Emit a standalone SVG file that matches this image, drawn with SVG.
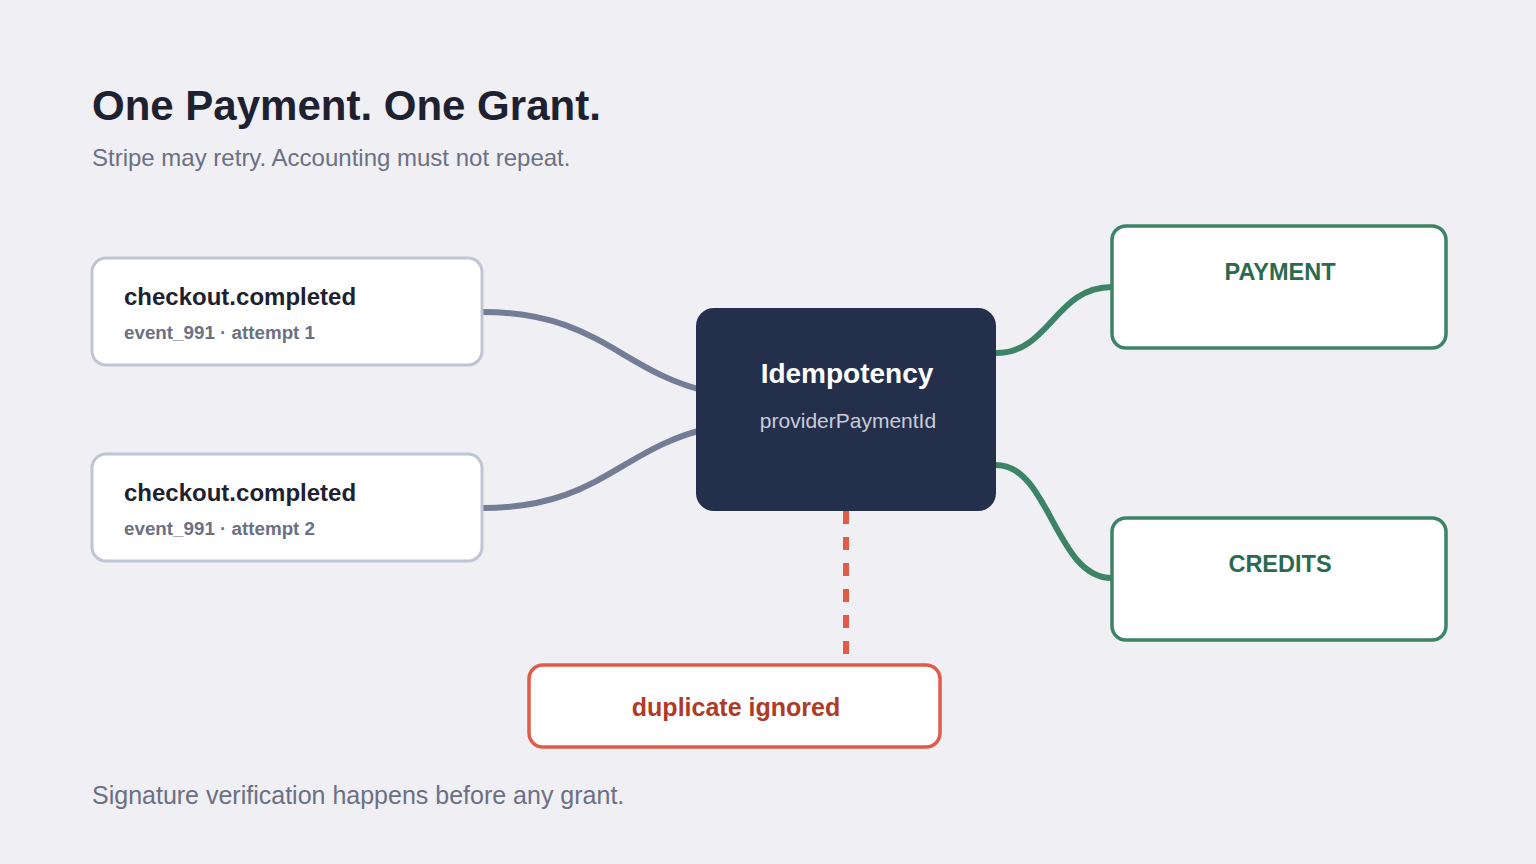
<svg xmlns="http://www.w3.org/2000/svg" width="1536" height="864" viewBox="0 0 1536 864">
<defs>
<style>
text{font-family:"Liberation Sans",Arial,Helvetica,sans-serif}
.title{font-size:42px;font-weight:bold;fill:#1d2130}
.sub{font-size:24px;fill:#6b7083}
.foot{font-size:25px;fill:#6b7083}
.evbox{fill:#ffffff;stroke:#c0c5d3;stroke-width:3}
.evt{font-size:24px;font-weight:bold;fill:#1d2130}
.evs{font-size:18.8px;font-weight:bold;fill:#6b7083}
.outbox{fill:#ffffff;stroke:#3d8466;stroke-width:3.5}
.outt{font-size:23.5px;font-weight:bold;fill:#2a6a4e;text-anchor:middle}
.gray{fill:none;stroke:#737d96;stroke-width:6;stroke-linecap:round}
.green{fill:none;stroke:#3d8466;stroke-width:6;stroke-linecap:round}
.red{fill:none;stroke:#e05c46;stroke-width:6;stroke-dasharray:13 13}
</style>
</defs>
<rect width="1536" height="864" fill="#efeff4"/>
<text class="title" x="92" y="120">One Payment. One Grant.</text>
<text class="sub" x="92" y="166">Stripe may retry. Accounting must not repeat.</text>

<g id="connectors">
<path class="gray" d="M482,312 C600,312 620,372 710,392"/>
<path class="gray" d="M482,508 C600,508 620,448 710,428"/>
<path class="green" d="M996,353 C1050,353 1055,287 1112,287"/>
<path class="green" d="M996,465 C1050,465 1055,578 1112,578"/>
<path class="red" d="M846,511 L846,658"/>
</g>

<g id="event1">
<rect class="evbox" x="92" y="258" width="390" height="107" rx="14"/>
<text class="evt" x="124" y="305">checkout.completed</text>
<text class="evs" x="124" y="339">event_991 · attempt 1</text>
</g>
<g id="event2">
<rect class="evbox" x="92" y="454" width="390" height="107" rx="14"/>
<text class="evt" x="124" y="501">checkout.completed</text>
<text class="evs" x="124" y="535">event_991 · attempt 2</text>
</g>

<g id="idempotency">
<rect x="696" y="308" width="300" height="203" rx="18" fill="#242f4b"/>
<text x="847" y="383" text-anchor="middle" font-size="28" font-weight="bold" fill="#ffffff">Idempotency</text>
<text x="848" y="428" text-anchor="middle" font-size="21" fill="#c8cdd9">providerPaymentId</text>
</g>

<g id="payment">
<rect class="outbox" x="1112" y="226" width="334" height="122" rx="14"/>
<text class="outt" x="1280" y="280">PAYMENT</text>
</g>
<g id="credits">
<rect class="outbox" x="1112" y="518" width="334" height="122" rx="14"/>
<text class="outt" x="1280" y="572">CREDITS</text>
</g>

<g id="duplicate">
<rect x="529" y="665" width="411" height="82" rx="14" fill="#ffffff" stroke="#e05c46" stroke-width="3.5"/>
<text x="736" y="716" text-anchor="middle" font-size="25" font-weight="bold" fill="#b03a28">duplicate ignored</text>
</g>

<text class="foot" x="92" y="804">Signature verification happens before any grant.</text>
</svg>
